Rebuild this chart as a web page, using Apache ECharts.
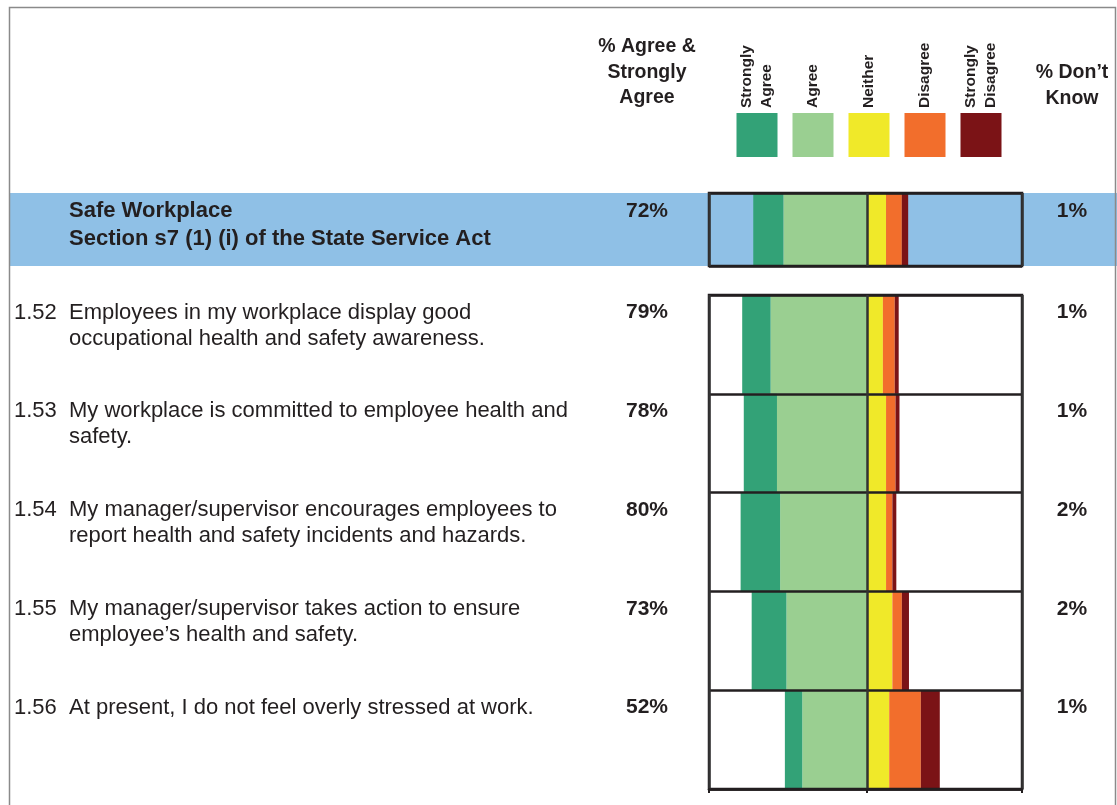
<!DOCTYPE html>
<html>
<head>
<meta charset="utf-8">
<title>Safe Workplace</title>
<script src="https://cdn.jsdelivr.net/npm/echarts@6/dist/echarts.min.js"></script>
<style>
  html, body { margin: 0; padding: 0; background: #fff; }
  #chart { width: 1117px; height: 805px; }
</style>
</head>
<body>
<div id="chart"></div>
<script>
// Row 0 is the section summary, rows 1..5 are the individual statements.
const rowIds = ['', '1.52', '1.53', '1.54', '1.55', '1.56'];
const rowText = [
  'Safe Workplace\nSection s7 (1) (i) of the State Service Act',
  'Employees in my workplace display good\noccupational health and safety awareness.',
  'My workplace is committed to employee health and\nsafety.',
  'My manager/supervisor encourages employees to\nreport health and safety incidents and hazards.',
  'My manager/supervisor takes action to ensure\nemployee\u2019s health and safety.',
  'At present, I do not feel overly stressed at work.'
];
const strongAgree    = [19, 18, 21, 25, 22, 11];
const agree          = [53, 61, 57, 55, 51, 41];
const neither        = [12, 10, 12, 12, 16, 14];
const disagree       = [10, 7.5, 6, 4, 6, 20];
const strongDisagree = [4, 2.5, 2.5, 2.5, 4.5, 12];
const dontKnow       = [1, 1, 1, 2, 2, 1];

const responseNames = ['Strongly\nAgree', 'Agree', 'Neither', 'Disagree', 'Strongly\nDisagree'];
const responseColors = ['#33a277', '#9acf91', '#f0e929', '#f26e2c', '#7b1316'];
const headerAgree = '% Agree &\nStrongly\nAgree';
const headerDontKnow = '% Don\u2019t\nKnow';

const FONT = "'Liberation Sans', Arial, sans-serif";
const INK = '#231f20';
const BAND = '#8fc0e6';

const chart = echarts.init(document.getElementById('chart'), null, { renderer: 'canvas' });

const PLOT_LEFT = 709, PLOT_W = 313;
const grids = [
  { left: PLOT_LEFT, width: PLOT_W, top: 193, height: 73 },
  { left: PLOT_LEFT, width: PLOT_W, top: 295, height: 494 }
];
const rowsOf = [[0], [1, 2, 3, 4, 5]];

function pick(arr, g) { return rowsOf[g].map(i => arr[i]); }

const series = [];
rowsOf.forEach((rows, g) => {
  const cols = [
    { name: 'Agree', data: pick(agree, g).map(v => -v), color: responseColors[1] },
    { name: 'Strongly Agree', data: pick(strongAgree, g).map(v => -v), color: responseColors[0] },
    { name: 'Neither', data: pick(neither, g), color: responseColors[2] },
    { name: 'Disagree', data: pick(disagree, g), color: responseColors[3] },
    { name: 'Strongly Disagree', data: pick(strongDisagree, g), color: responseColors[4] }
  ];
  cols.forEach(c => {
    series.push({
      type: 'bar', name: c.name, stack: 'g' + g,
      xAxisIndex: g, yAxisIndex: g,
      barWidth: '100%', barCategoryGap: 0,
      itemStyle: { color: c.color },
      data: c.data, silent: true, animation: false
    });
  });
});

const option = {
  animation: false,
  grid: grids.map(gr => Object.assign({
    show: true, borderColor: INK, borderWidth: 2.5, backgroundColor: 'transparent', z: 5
  }, gr)),
  xAxis: grids.map((gr, g) => ({
    gridIndex: g, type: 'value', min: -100, max: 98, interval: 100, z: 5,
    axisLabel: { show: false },
    axisLine: { show: g === 1, lineStyle: { color: INK, width: 2.5 } },
    axisTick: { show: g === 1, length: 4, lineStyle: { color: INK, width: 2 } },
    splitLine: { show: true, lineStyle: { color: '#333', width: 2.5 } }
  })),
  yAxis: grids.map((gr, g) => ({
    gridIndex: g, type: 'category', inverse: true, z: 5,
    data: pick(rowIds, g),
    axisLabel: { show: false }, axisTick: { show: false }, axisLine: { show: false },
    splitLine: { show: true, lineStyle: { color: INK, width: 2.5 } }
  })),
  series: series
};
chart.setOption(option);

// Text and decorations placed from the grid scales
const gfx = [];
// outer frame
gfx.push({ type: 'rect', z: 1, shape: { x: 9.5, y: 7.5, width: 1106, height: 820 },
  style: { fill: null, stroke: '#8a8a8a', lineWidth: 1.5 } });
// section band
gfx.push({ type: 'rect', z: 0, shape: { x: 10, y: 193, width: 1107, height: 73 },
  style: { fill: BAND } });

// column headers
gfx.push({ type: 'text', z: 10, x: 647, y: 34, style: {
  text: headerAgree, font: 'bold 19.5px ' + FONT, fill: INK, align: 'center', verticalAlign: 'top', lineHeight: 25.5 } });
gfx.push({ type: 'text', z: 10, x: 1072, y: 60, style: {
  text: headerDontKnow, font: 'bold 19.5px ' + FONT, fill: INK, align: 'center', verticalAlign: 'top', lineHeight: 25.5 } });

// response key
responseNames.forEach((name, k) => {
  const cx = 757 + k * 56;
  gfx.push({ type: 'rect', z: 10, shape: { x: cx - 20.5, y: 113, width: 41, height: 44 },
    style: { fill: responseColors[k] } });
  gfx.push({ type: 'text', z: 10, x: cx, y: 108, rotation: Math.PI / 2, style: {
    text: name, font: 'bold 15.5px ' + FONT, fill: INK, align: 'left', verticalAlign: 'middle', lineHeight: 20 } });
});

// per-row text
rowIds.forEach((id, i) => {
  const g = i === 0 ? 0 : 1;
  const cy = chart.convertToPixel({ yAxisIndex: g }, rowIds[i]);
  const bandH = grids[g].height / rowsOf[g].length;
  const top = cy - bandH / 2;
  const isSection = i === 0;
  const textTop = top + (isSection ? 4 : 4.5);
  const lh = isSection ? 28 : 26;
  const font = (isSection ? 'bold ' : '') + '22px ' + FONT;
  if (id) {
    gfx.push({ type: 'text', z: 10, x: 14, y: textTop, style: {
      text: id, font: font, fill: INK, align: 'left', verticalAlign: 'top', lineHeight: lh } });
  }
  gfx.push({ type: 'text', z: 10, x: 69, y: textTop, style: {
    text: rowText[i], font: font, fill: INK, align: 'left', verticalAlign: 'top', lineHeight: lh } });
  gfx.push({ type: 'text', z: 10, x: 647, y: textTop, style: {
    text: (strongAgree[i] + agree[i]) + '%', font: 'bold 21px ' + FONT, fill: INK,
    align: 'center', verticalAlign: 'top', lineHeight: lh } });
  gfx.push({ type: 'text', z: 10, x: 1072, y: textTop, style: {
    text: dontKnow[i] + '%', font: 'bold 21px ' + FONT, fill: INK,
    align: 'center', verticalAlign: 'top', lineHeight: lh } });
});

chart.setOption({ graphic: { elements: gfx } });
</script>
</body>
</html>
